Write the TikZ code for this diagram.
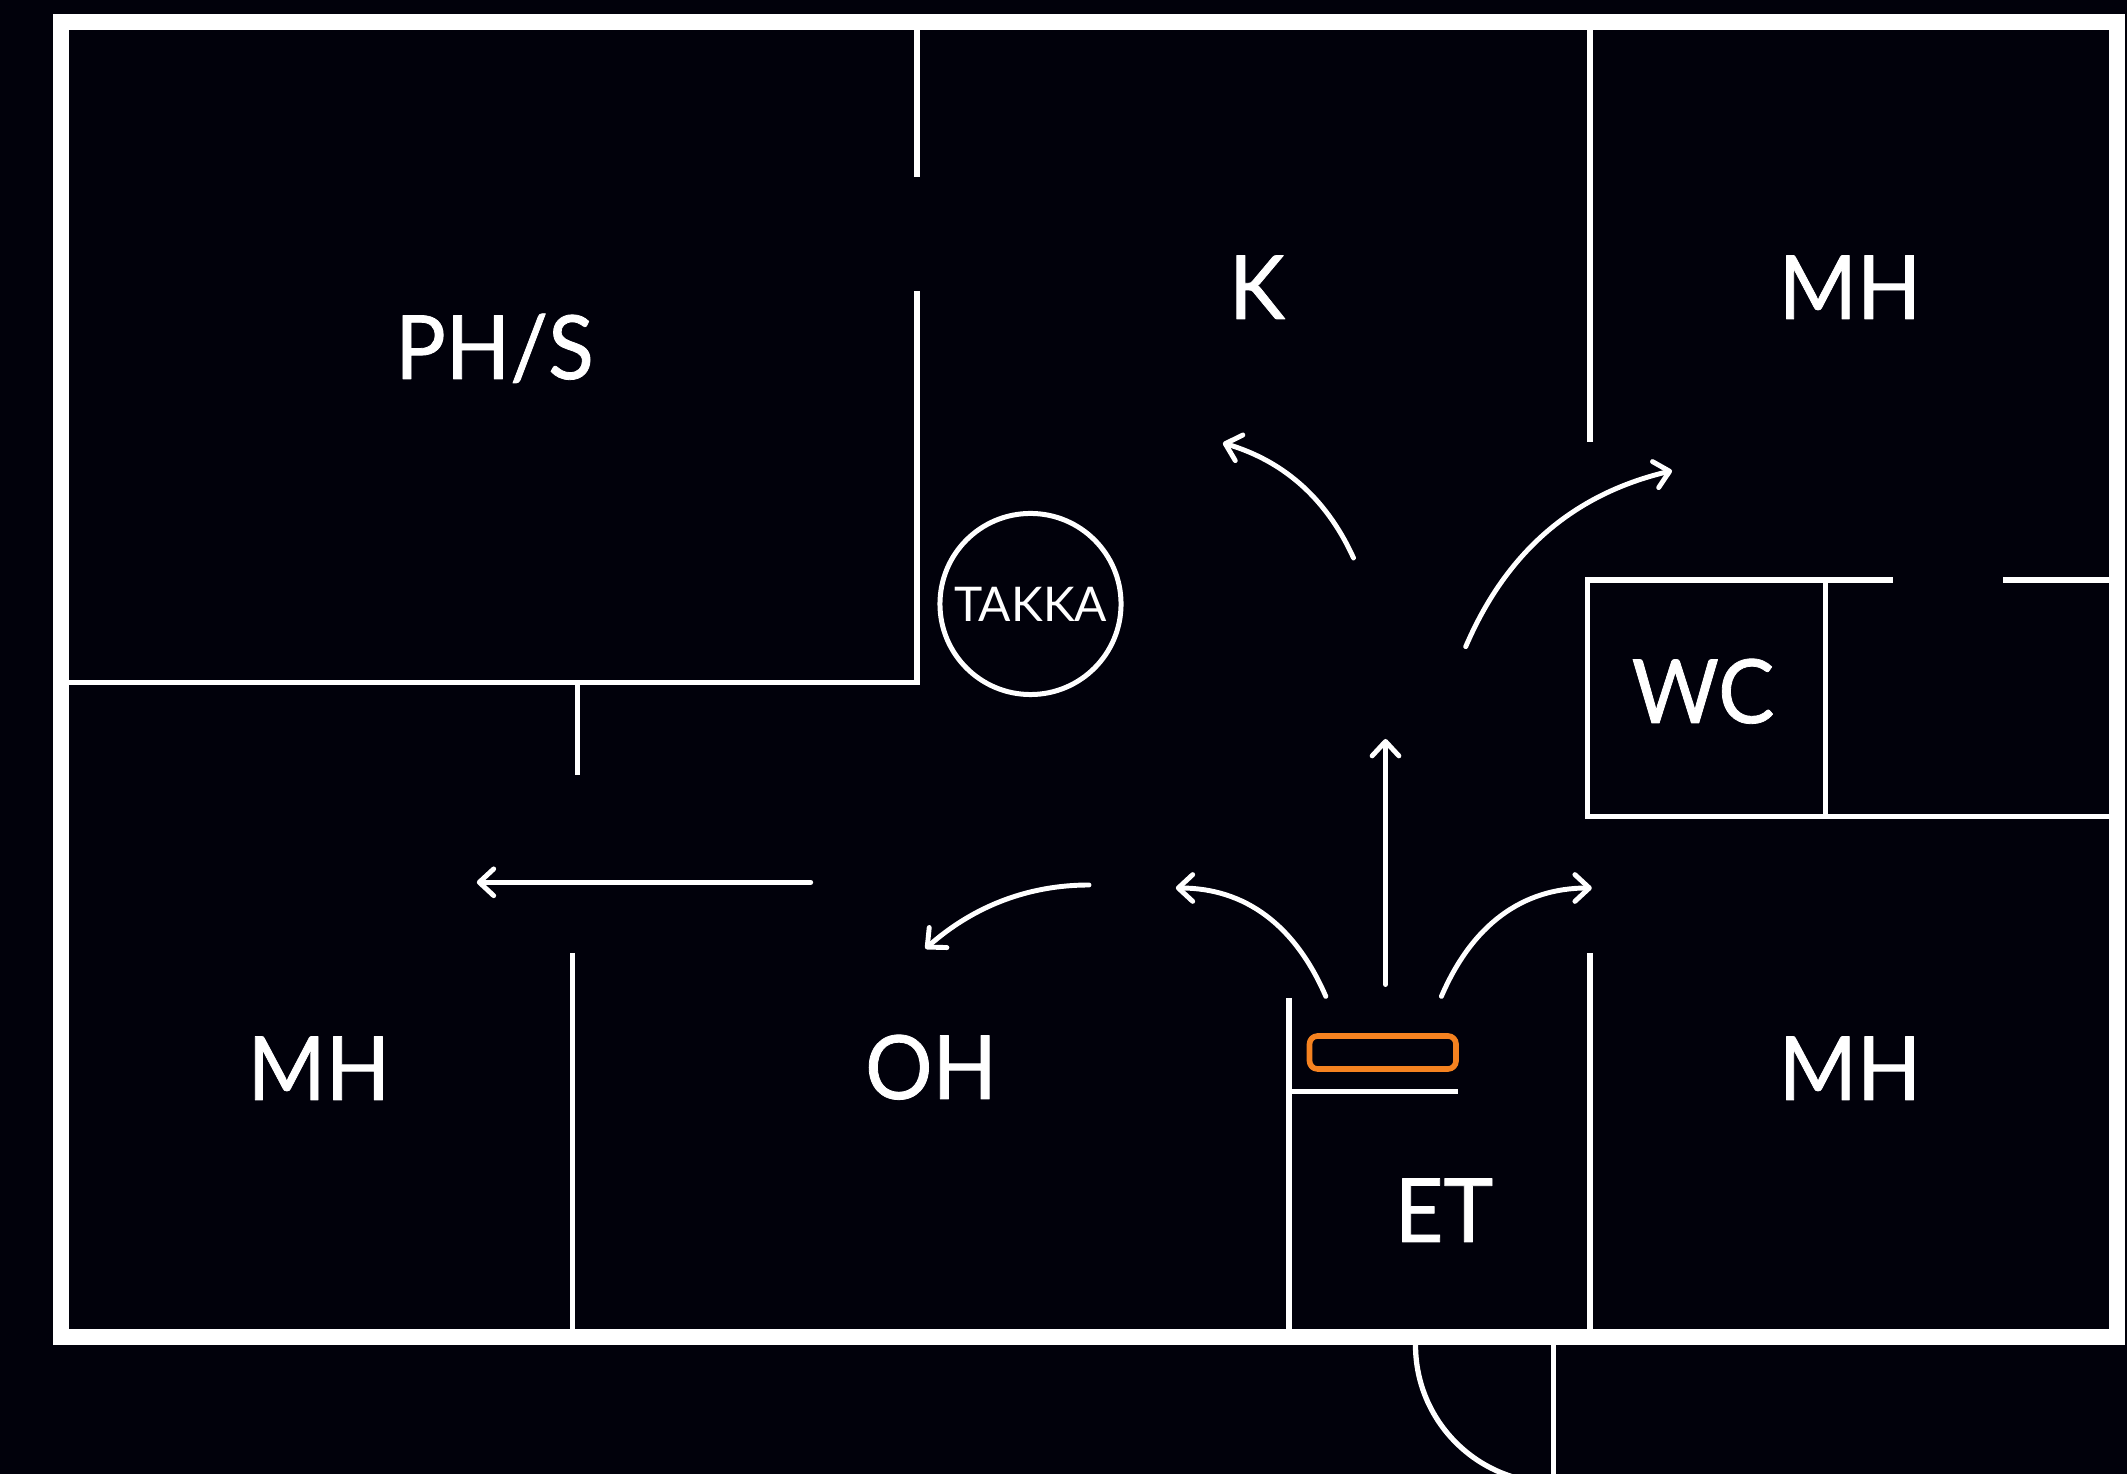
\documentclass[tikz,border=0pt]{standalone}
\usepackage{fontspec}
\setmainfont{Lato}
\newfontfamily\roomfont{Lato}[FakeBold=0.9, FakeStretch=0.95]
\usetikzlibrary{arrows.meta}
\definecolor{bgcol}{HTML}{01010B}
\definecolor{stovecol}{HTML}{F58220}
\tikzset{
	wall/.style={white, line width=1.5pt, line cap=butt, line join=miter},
	frame/.style={white, line width=4.55pt, line join=miter},
	route/.style={white, line width=1.4pt, line cap=round, ->},
	room/.style={white, anchor=base, inner sep=0pt, font=\roomfont\fontsize{25.2}{30}\selectfont},
}
\begin{document}
\begin{tikzpicture}[x=0.01cm, y=-0.01cm, line join=round, >={Straight Barb[length=4.1pt, width=7.6pt, round]}]
	\path[use as bounding box, clip] (0,0) rectangle (2127,1474);
	\fill[bgcol] (0,0) rectangle (2127,1474);
	\draw[frame] (61.3,22.3) rectangle (2117,1337);
	\draw[wall] (917,30)--(917,177) (917,291)--(917,682.5)--(69,682.5);
	\draw[wall] (577.8,682.5)--(577.8,775) (572.3,953)--(572.3,1329);
	\draw[wall] (1590,30)--(1590,442) (1590,953)--(1590,1329);
	\draw[wall] (1892.7,580)--(1587.3,580)--(1587.3,816.7)--(2109,816.7);
	\draw[wall] (2003.4,580)--(2109,580) (1825.6,580)--(1825.6,816.7);
	\draw[wall] (1289,998)--(1289,1329) (1289,1091.5)--(1458,1091.5);
	\draw[wall] (1553.5,1345)--(1553.5,1474);
	\draw[wall] (1415.5,1345) arc[start angle=180, end angle=90, radius=138];
	\draw[stovecol, line width=1.6pt, rounded corners=2.3pt] (1309.5,1036) rectangle (1456,1069);
	\foreach \x/\y/\z/\s in {494.5/379/{PH/S}/phs,1257/319/K/kitchen,1850/319/MH/mhtop,318.8/1100/MH/mhleft,931/1099/OH/oh,1850/1100/MH/mhright,1444/1242/ET/et,1703/723/WC/wc}
	\node[room] (\s) at (\x,\y) {\z};
	\node[draw=white, line width=1.42pt, circle, minimum size=1.81cm, inner sep=0pt, text=white, font=\fontsize{13.6}{16}\selectfont] (takka) at (1030.5,604) {TAKKA};
	\draw[route] (1385.5,984.5)--(1385.5,739);
	\draw[route] (810.7,882.3)--(476.8,882.3);
	\draw[route] (1325.8,996.4) .. controls (1295,925) and (1245,888) .. (1175.8,888);
	\draw[route] (1441.4,996.4) .. controls (1472,925) and (1522,888) .. (1591.8,888);
	\draw[route] (1353.5,558) .. controls (1325,495) and (1280,460) .. (1222.9,443);
	\draw[route] (1465.7,646.7) .. controls (1505,555) and (1570,495) .. (1672,470.7);
	\draw[route] (1089,885) .. controls (1030,885) and (975,905) .. (925.4,948.7);
\end{tikzpicture}
\end{document}
